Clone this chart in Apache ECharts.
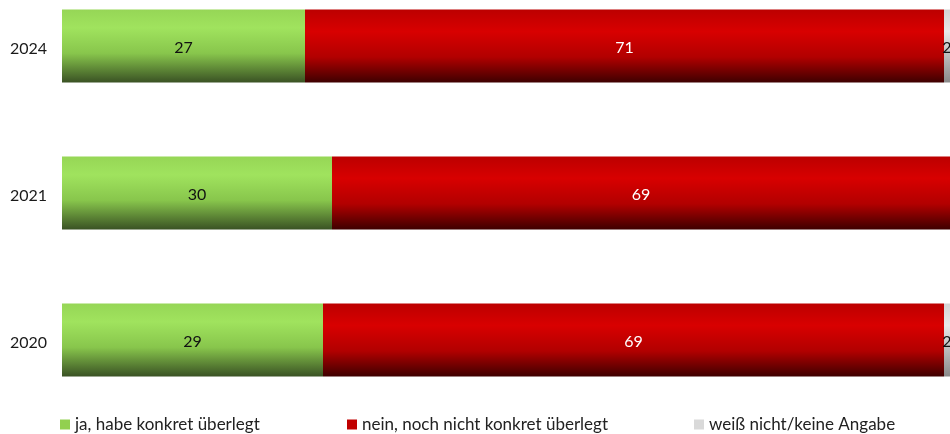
<!DOCTYPE html>
<html>
<head>
<meta charset="utf-8">
<script src="https://cdn.jsdelivr.net/npm/echarts@6/dist/echarts.min.js"></script>
<style>html,body{margin:0;padding:0;background:#fff;}#c{width:950px;height:434px;}</style>
</head>
<body>
<div id="c"></div>
<script>
const categories = ['2024', '2021', '2020'];
const seriesNames = ['ja, habe konkret überlegt', 'nein, noch nicht konkret überlegt', 'weiß nicht/keine Angabe'];
const jaValues = [27, 30, 29];
const neinValues = [71, 69, 69];
const wnValues = [2, 1, 2];

const FONT = 'Lato, "Open Sans", sans-serif';
function grad(stops) {
  return new echarts.graphic.LinearGradient(0, 0, 0, 1, stops.map(s => ({offset: s[0], color: s[1]})));
}
const greenGrad = grad([[0, '#96d656'], [0.25, '#a0e35e'], [0.6, '#88c64c'], [1, '#3a5224']]);
const redGrad = grad([[0, '#bc0000'], [0.3, '#d80000'], [0.65, '#b20000'], [1, '#3e0000']]);
const grayGrad = grad([[0, '#d4d4d4'], [0.3, '#e8e8e8'], [1, '#8a8a8a']]);

const chart = echarts.init(document.getElementById('c'));
function mkSeries(name, data, color, labelColor) {
  return {
    name: name, type: 'bar', stack: 'total', data: data, barWidth: 73,
    itemStyle: {color: color},
    label: {show: true, position: 'inside', color: labelColor, fontSize: 16, fontFamily: FONT, offset: [0, 2]},
    emphasis: {disabled: true}
  };
}
function mkLegend(name, left, color) {
  return {
    left: left, top: 411, itemWidth: 10, itemHeight: 10, icon: 'rect', itemGap: 4,
    data: [{name: name, itemStyle: {color: color}}],
    textStyle: {fontSize: 17, color: '#222', fontFamily: FONT, padding: [0, 0, 0, 0]},
    selectedMode: false
  };
}
chart.setOption({
  animation: false,
  grid: {left: 62, right: 0, top: 46, height: 294},
  xAxis: {type: 'value', min: 0, max: 888 / 9, show: false},
  yAxis: {
    type: 'category', data: categories, inverse: true, boundaryGap: false,
    axisLine: {show: false}, axisTick: {show: false}, splitLine: {show: false},
    axisLabel: {
      fontSize: 16, color: '#1a1a1a', fontFamily: FONT, margin: 15,
      formatter: '{y|{value}}',
      rich: {y: {fontSize: 16, color: '#1a1a1a', fontFamily: FONT, padding: [6, 0, 0, 0]}}
    }
  },
  legend: [
    mkLegend(seriesNames[0], 55, '#92d050'),
    mkLegend(seriesNames[1], 342, '#c00000'),
    mkLegend(seriesNames[2], 689, '#d9d9d9')
  ],
  series: [
    mkSeries(seriesNames[0], jaValues, greenGrad, '#111'),
    mkSeries(seriesNames[1], neinValues, redGrad, '#fff'),
    mkSeries(seriesNames[2], wnValues, grayGrad, '#111')
  ]
});
</script>
</body>
</html>
